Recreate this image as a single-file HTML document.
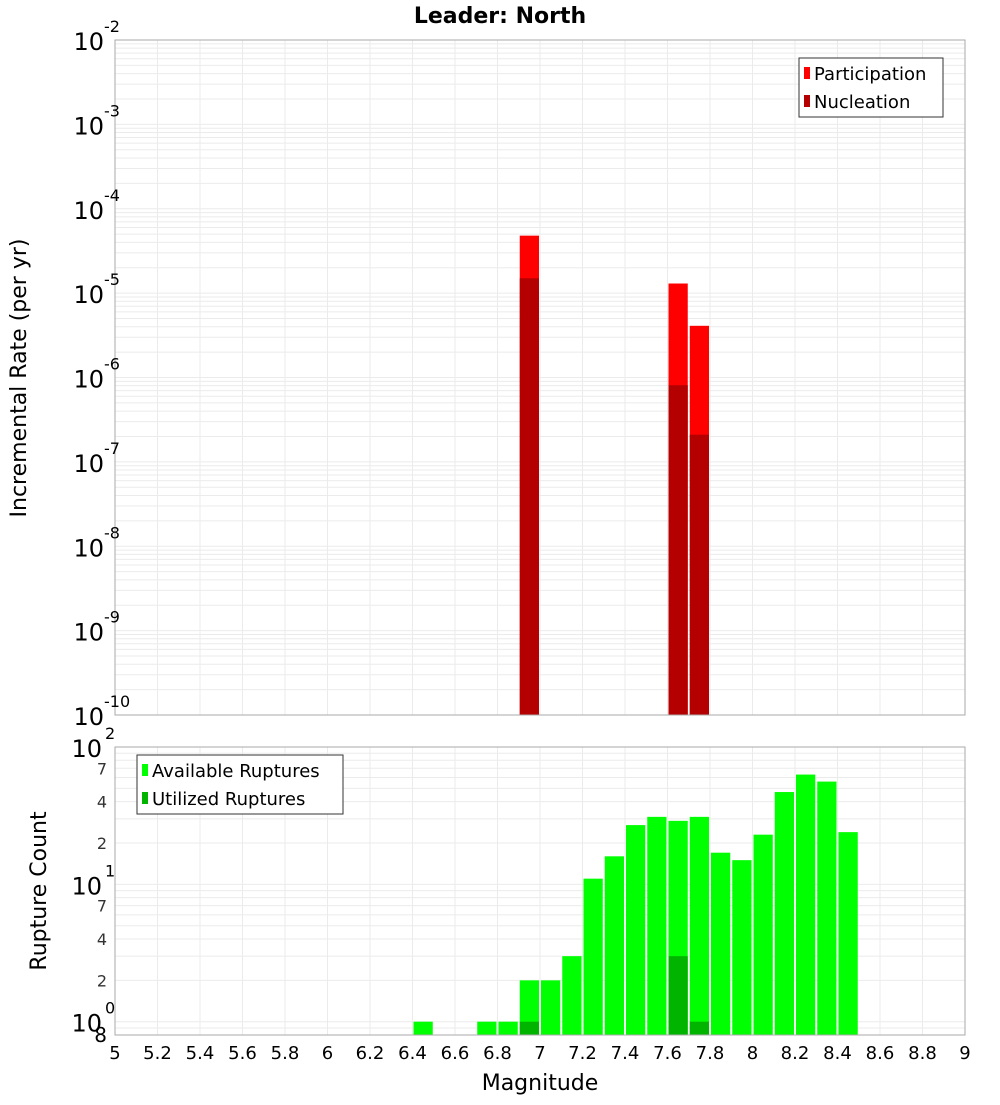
<!DOCTYPE html>
<html><head><meta charset="utf-8"><style>
body{margin:0;background:#fff;font-family:"Liberation Sans","DejaVu Sans",sans-serif}
svg text{font-family:"DejaVu Sans","Liberation Sans",sans-serif}
</style></head><body>
<svg id="c" width="1000" height="1100" xmlns="http://www.w3.org/2000/svg"></svg>
<script>
const partBins=[6.9,7.6,7.7];
const partVals=[4.8e-5,1.3e-5,4.1e-6];
const nucBins=[6.9,7.6,7.7];
const nucVals=[1.5e-5,8.1e-7,2.1e-7];
const availBins=[6.4,6.7,6.8,6.9,7.0,7.1,7.2,7.3,7.4,7.5,7.6,7.7,7.8,7.9,8.0,8.1,8.2,8.3,8.4];
const availVals=[1,1,1,2,2,3,11,16,27,31,29,31,17,15,23,47,63,56,24];
const usedBins=[6.9,7.6,7.7];
const usedVals=[1,3,1];
const xTicks=[5,5.2,5.4,5.6,5.8,6,6.2,6.4,6.6,6.8,7,7.2,7.4,7.6,7.8,8,8.2,8.4,8.6,8.8,9];
const topExps=[-2,-3,-4,-5,-6,-7,-8,-9,-10];
const botExps=[2,1,0];
const botMinor=[7,4,2];

const NS="http://www.w3.org/2000/svg";
const svg=document.getElementById('c');
function el(tag,attrs,parent){const e=document.createElementNS(NS,tag);for(const k in attrs)e.setAttribute(k,attrs[k]);(parent||svg).appendChild(e);return e;}
const X0=115,X1=965;
const xs=m=>X0+(m-5)/4*(X1-X0);
const T0=40,T1=715;
const yTop=v=>T0+(-2-Math.log10(v))/8*(T1-T0);
const B0=747,B1=1035,BMIN=Math.log10(0.8);
const yBot=v=>B0+(2-Math.log10(v))/(2-BMIN)*(B1-B0);

// title
let t=el('text',{x:500,y:23,'text-anchor':'middle','font-size':22,'font-weight':'bold'});


t.textContent='Leader: North';

// plot backgrounds & grids
function grid(y0,y1,ylines,name){
  const g=el('g',{});
  
  
  xTicks.forEach(m=>el('line',{x1:xs(m),x2:xs(m),y1:y0,y2:y1,stroke:'#ebebeb','stroke-width':1},g));
  ylines.forEach(y=>el('line',{x1:X0,x2:X1,y1:y,y2:y,stroke:'#ebebeb','stroke-width':1},g));
}
let tl=[];
for(let e=-10;e<-2;e++){for(let k=1;k<10;k++)tl.push(yTop(k*Math.pow(10,e)));}
tl.push(yTop(1e-2));
grid(T0,T1,tl,'top-grid');
let bl=[];
for(let e=-1;e<2;e++){for(let k=1;k<10;k++){const v=k*Math.pow(10,e);if(v>=0.8)bl.push(yBot(v));}}
grid(B0,B1,bl,'bottom-grid');

// bars
const bw=xs(5.1)-xs(5);
function bars(bins,vals,yf,base,color,name){
  bins.forEach((b,i)=>{
    const y=yf(vals[i]);
    const r=el('rect',{x:xs(b)+1,y:y,width:bw-2,height:base-y,fill:color});
    
    
  });
}
bars(partBins,partVals,yTop,T1,'#ff0000','participation-bar');
bars(nucBins,nucVals,yTop,T1,'#b40000','nucleation-bar');
bars(availBins,availVals,yBot,B1,'#00ff00','available-bar');
bars(usedBins,usedVals,yBot,B1,'#00b400','utilized-bar');

// frames
let f1=el('rect',{x:X0,y:T0,width:X1-X0,height:T1-T0,fill:'none',stroke:'#aaa'});


let f2=el('rect',{x:X0,y:B0,width:X1-X0,height:B1-B0,fill:'none',stroke:'#aaa'});



// top y ticks
topExps.forEach(e=>{
  const y=yTop(Math.pow(10,e));
  const tx=el('text',{x:104,y:y+10,'text-anchor':'end','font-size':24});
  
  
  tx.textContent='10';
  const s=el('text',{x:104,y:y-8,'font-size':16,'text-anchor':'start'});
  
  
  s.textContent=String(e);
});
// bottom y ticks
botExps.forEach(e=>{
  const y=yBot(Math.pow(10,e));
  const tx=el('text',{x:102,y:y+10,'text-anchor':'end','font-size':24});
  
  
  tx.textContent='10';
  const s=el('text',{x:105,y:y-8,'font-size':16});
  
  
  s.textContent=String(e);
});
for(let e=-1;e<2;e++){botMinor.forEach(k=>{
  const v=k*Math.pow(10,e); if(v<0.8)return;
  const s=el('text',{x:107,y:yBot(v)+6,'text-anchor':'end','font-size':16,fill:'#333'});
  
  
  s.textContent=String(k);
});}
let e8=el('text',{x:107,y:1042,'text-anchor':'end','font-size':20});


e8.textContent='8';

// x ticks
xTicks.forEach(m=>{
  const tx=el('text',{x:xs(m),y:1059,'text-anchor':'middle','font-size':18});
  
  
  tx.textContent=String(m);
});
let xt=el('text',{x:540,y:1090,'text-anchor':'middle','font-size':22});


xt.textContent='Magnitude';
let yt1=el('text',{x:0,y:0,'text-anchor':'middle','font-size':22,transform:'translate(26,378) rotate(-90)'});


yt1.textContent='Incremental Rate (per yr)';
let yt2=el('text',{x:0,y:0,'text-anchor':'middle','font-size':22,transform:'translate(46,891) rotate(-90)'});


yt2.textContent='Rupture Count';

// legends
function legend(x,y,w,h,items,name){
  const g=el('g',{});
  
  
  el('rect',{x:x,y:y,width:w,height:h,fill:'#fff',stroke:'#333'},g);
  items.forEach((it,i)=>{
    const cy=y+15+i*28;
    const r=el('rect',{x:x+5,y:cy-6,width:6,height:12,fill:it[1]},g);
    
    
    const tx=el('text',{x:x+15,y:cy+7,'font-size':18},g);
    
    
    tx.textContent=it[0];
  });
}
legend(799,58,144,59,[['Participation','#ff0000'],['Nucleation','#b40000']],'top-legend');
legend(137,755,206,59,[['Available Ruptures','#00ff00'],['Utilized Ruptures','#00b400']],'bottom-legend');
</script>
</body></html>
